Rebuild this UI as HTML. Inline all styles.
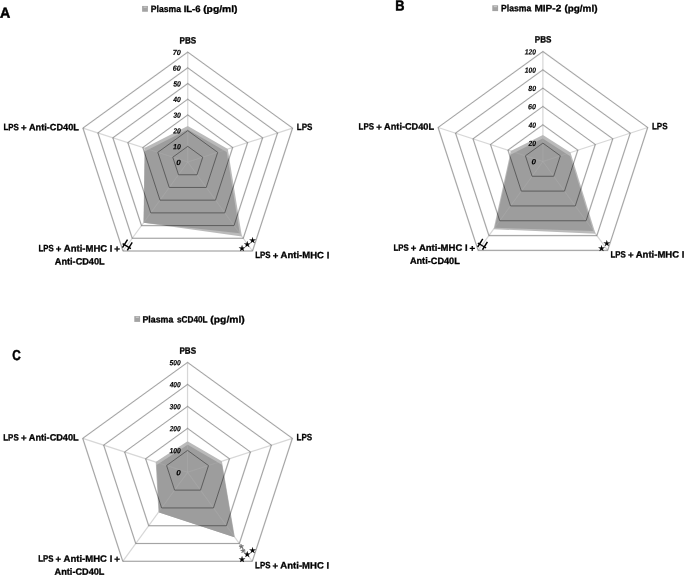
<!DOCTYPE html>
<html><head><meta charset="utf-8"><title>Radar charts</title>
<style>
html,body{margin:0;padding:0;background:#fff;}
svg{display:block;font-family:"Liberation Sans", Arial, sans-serif;font-weight:bold;text-rendering:geometricPrecision;}
</style></head><body>
<svg width="685" height="576" viewBox="0 0 685 576">
<rect width="685" height="576" fill="#fff"/>
<polygon points="187.75,125.88 227.79,149.07 241.89,236.39 143.61,222.67 144.38,147.99" fill="#bababa"/>
<polygon points="187.65,129.52 226.66,152.11 239.74,233.14 143.61,222.67 145.11,151.21" fill="#9d9d9d"/>
<clipPath id="in1"><polygon points="187.75,125.88 227.79,149.07 241.89,236.39 143.61,222.67 144.38,147.99"/></clipPath>
<clipPath id="out1"><path clip-rule="evenodd" d="M0 0 H685 V576 H0 Z M187.75 125.88 L227.79 149.07 L241.89 236.39 L143.61 222.67 L144.38 147.99 Z"/></clipPath>
<g clip-path="url(#out1)">
<line x1="187.75" y1="162.05" x2="187.75" y2="52.10" stroke="#b0b0b0" stroke-opacity="0.5" stroke-width="1.2"/>
<line x1="187.75" y1="162.05" x2="292.56" y2="128.07" stroke="#b0b0b0" stroke-opacity="0.5" stroke-width="1.2"/>
<line x1="187.75" y1="162.05" x2="252.52" y2="251.00" stroke="#b0b0b0" stroke-opacity="0.5" stroke-width="1.2"/>
<line x1="187.75" y1="162.05" x2="122.98" y2="251.00" stroke="#b0b0b0" stroke-opacity="0.5" stroke-width="1.2"/>
<line x1="187.75" y1="162.05" x2="82.94" y2="128.07" stroke="#b0b0b0" stroke-opacity="0.5" stroke-width="1.2"/>
<polygon points="187.75,146.34 202.72,157.20 197.00,174.76 178.50,174.76 172.78,157.20" fill="none" stroke="#474747" stroke-opacity="0.16" stroke-width="1.6"/>
<polygon points="187.75,146.34 202.72,157.20 197.00,174.76 178.50,174.76 172.78,157.20" fill="none" stroke="#666666" stroke-width="0.5"/>
<polygon points="187.75,130.64 217.69,152.34 206.26,187.46 169.24,187.46 157.81,152.34" fill="none" stroke="#474747" stroke-opacity="0.16" stroke-width="1.6"/>
<polygon points="187.75,130.64 217.69,152.34 206.26,187.46 169.24,187.46 157.81,152.34" fill="none" stroke="#666666" stroke-width="0.5"/>
<polygon points="187.75,114.93 232.67,147.49 215.51,200.17 159.99,200.17 142.83,147.49" fill="none" stroke="#474747" stroke-opacity="0.16" stroke-width="1.6"/>
<polygon points="187.75,114.93 232.67,147.49 215.51,200.17 159.99,200.17 142.83,147.49" fill="none" stroke="#666666" stroke-width="0.5"/>
<polygon points="187.75,99.22 247.64,142.63 224.76,212.88 150.74,212.88 127.86,142.63" fill="none" stroke="#474747" stroke-opacity="0.16" stroke-width="1.6"/>
<polygon points="187.75,99.22 247.64,142.63 224.76,212.88 150.74,212.88 127.86,142.63" fill="none" stroke="#666666" stroke-width="0.5"/>
<polygon points="187.75,83.51 262.61,137.78 234.02,225.59 141.48,225.59 112.89,137.78" fill="none" stroke="#474747" stroke-opacity="0.16" stroke-width="1.6"/>
<polygon points="187.75,83.51 262.61,137.78 234.02,225.59 141.48,225.59 112.89,137.78" fill="none" stroke="#666666" stroke-width="0.5"/>
<polygon points="187.75,67.81 277.58,132.93 243.27,238.29 132.23,238.29 97.92,132.93" fill="none" stroke="#474747" stroke-opacity="0.16" stroke-width="1.6"/>
<polygon points="187.75,67.81 277.58,132.93 243.27,238.29 132.23,238.29 97.92,132.93" fill="none" stroke="#666666" stroke-width="0.5"/>
<polygon points="187.75,52.10 292.56,128.07 252.52,251.00 122.98,251.00 82.94,128.07" fill="none" stroke="#474747" stroke-opacity="0.16" stroke-width="1.6"/>
<polygon points="187.75,52.10 292.56,128.07 252.52,251.00 122.98,251.00 82.94,128.07" fill="none" stroke="#666666" stroke-width="0.5"/>
</g>
<g clip-path="url(#in1)">
<line x1="187.75" y1="162.05" x2="187.75" y2="52.10" stroke="#b4b4b4" stroke-opacity="0.32" stroke-width="1.1"/>
<line x1="187.75" y1="162.05" x2="292.56" y2="128.07" stroke="#b4b4b4" stroke-opacity="0.32" stroke-width="1.1"/>
<line x1="187.75" y1="162.05" x2="252.52" y2="251.00" stroke="#b4b4b4" stroke-opacity="0.32" stroke-width="1.1"/>
<line x1="187.75" y1="162.05" x2="122.98" y2="251.00" stroke="#b4b4b4" stroke-opacity="0.32" stroke-width="1.1"/>
<line x1="187.75" y1="162.05" x2="82.94" y2="128.07" stroke="#b4b4b4" stroke-opacity="0.32" stroke-width="1.1"/>
<polygon points="187.75,146.34 202.72,157.20 197.00,174.76 178.50,174.76 172.78,157.20" fill="none" stroke="#4c4c4c" stroke-width="0.8"/>
<polygon points="187.75,130.64 217.69,152.34 206.26,187.46 169.24,187.46 157.81,152.34" fill="none" stroke="#4c4c4c" stroke-width="0.8"/>
<polygon points="187.75,114.93 232.67,147.49 215.51,200.17 159.99,200.17 142.83,147.49" fill="none" stroke="#4c4c4c" stroke-width="0.8"/>
<polygon points="187.75,99.22 247.64,142.63 224.76,212.88 150.74,212.88 127.86,142.63" fill="none" stroke="#4c4c4c" stroke-width="0.8"/>
<polygon points="187.75,83.51 262.61,137.78 234.02,225.59 141.48,225.59 112.89,137.78" fill="none" stroke="#4c4c4c" stroke-width="0.8"/>
<polygon points="187.75,67.81 277.58,132.93 243.27,238.29 132.23,238.29 97.92,132.93" fill="none" stroke="#4c4c4c" stroke-width="0.8"/>
<polygon points="187.75,52.10 292.56,128.07 252.52,251.00 122.98,251.00 82.94,128.07" fill="none" stroke="#4c4c4c" stroke-width="0.8"/>
</g>
<text y="164.95" font-size="7.6" fill="#000" stroke="#000" stroke-width="0.12" font-style="italic" transform="rotate(0.1 178.8 165.0)"><tspan x="176.36" textLength="4.52" lengthAdjust="spacingAndGlyphs">0</tspan></text>
<text y="149.24" font-size="7.6" fill="#000" stroke="#000" stroke-width="0.12" font-style="italic" transform="rotate(0.1 177.0 149.2)"><tspan x="173.09" textLength="7.78" lengthAdjust="spacingAndGlyphs">10</tspan></text>
<text y="133.54" font-size="7.6" fill="#000" stroke="#000" stroke-width="0.12" font-style="italic" transform="rotate(0.1 177.0 133.5)"><tspan x="173.31" textLength="7.56" lengthAdjust="spacingAndGlyphs">20</tspan></text>
<text y="117.83" font-size="7.6" fill="#000" stroke="#000" stroke-width="0.12" font-style="italic" transform="rotate(0.1 177.0 117.8)"><tspan x="173.15" textLength="7.72" lengthAdjust="spacingAndGlyphs">30</tspan></text>
<text y="102.12" font-size="7.6" fill="#000" stroke="#000" stroke-width="0.12" font-style="italic" transform="rotate(0.1 177.0 102.1)"><tspan x="173.31" textLength="7.55" lengthAdjust="spacingAndGlyphs">40</tspan></text>
<text y="86.41" font-size="7.6" fill="#000" stroke="#000" stroke-width="0.12" font-style="italic" transform="rotate(0.1 177.0 86.4)"><tspan x="173.13" textLength="7.74" lengthAdjust="spacingAndGlyphs">50</tspan></text>
<text y="70.71" font-size="7.6" fill="#000" stroke="#000" stroke-width="0.12" font-style="italic" transform="rotate(0.1 177.0 70.7)"><tspan x="172.87" textLength="8.00" lengthAdjust="spacingAndGlyphs">60</tspan></text>
<text y="55.00" font-size="7.6" fill="#000" stroke="#000" stroke-width="0.12" font-style="italic" transform="rotate(0.1 177.0 55.0)"><tspan x="172.69" textLength="8.19" lengthAdjust="spacingAndGlyphs">70</tspan></text>
<polygon points="542.90,134.91 570.48,152.51 595.51,233.69 493.58,229.17 510.75,151.03" fill="#bababa"/>
<polygon points="542.71,138.59 570.24,156.15 593.35,231.12 494.83,227.71 510.91,154.53" fill="#9d9d9d"/>
<clipPath id="in2"><polygon points="542.90,134.91 570.48,152.51 595.51,233.69 493.58,229.17 510.75,151.03"/></clipPath>
<clipPath id="out2"><path clip-rule="evenodd" d="M0 0 H685 V576 H0 Z M542.90 134.91 L570.48 152.51 L595.51 233.69 L493.58 229.17 L510.75 151.03 Z"/></clipPath>
<g clip-path="url(#out2)">
<line x1="542.90" y1="161.45" x2="542.90" y2="51.50" stroke="#b0b0b0" stroke-opacity="0.5" stroke-width="1.2"/>
<line x1="542.90" y1="161.45" x2="647.71" y2="127.47" stroke="#b0b0b0" stroke-opacity="0.5" stroke-width="1.2"/>
<line x1="542.90" y1="161.45" x2="607.67" y2="250.40" stroke="#b0b0b0" stroke-opacity="0.5" stroke-width="1.2"/>
<line x1="542.90" y1="161.45" x2="478.13" y2="250.40" stroke="#b0b0b0" stroke-opacity="0.5" stroke-width="1.2"/>
<line x1="542.90" y1="161.45" x2="438.09" y2="127.47" stroke="#b0b0b0" stroke-opacity="0.5" stroke-width="1.2"/>
<polygon points="542.90,143.12 560.37,155.79 553.70,176.28 532.10,176.28 525.43,155.79" fill="none" stroke="#474747" stroke-opacity="0.16" stroke-width="1.6"/>
<polygon points="542.90,143.12 560.37,155.79 553.70,176.28 532.10,176.28 525.43,155.79" fill="none" stroke="#666666" stroke-width="0.5"/>
<polygon points="542.90,124.80 577.84,150.12 564.49,191.10 521.31,191.10 507.96,150.12" fill="none" stroke="#474747" stroke-opacity="0.16" stroke-width="1.6"/>
<polygon points="542.90,124.80 577.84,150.12 564.49,191.10 521.31,191.10 507.96,150.12" fill="none" stroke="#666666" stroke-width="0.5"/>
<polygon points="542.90,106.47 595.30,144.46 575.29,205.93 510.51,205.93 490.50,144.46" fill="none" stroke="#474747" stroke-opacity="0.16" stroke-width="1.6"/>
<polygon points="542.90,106.47 595.30,144.46 575.29,205.93 510.51,205.93 490.50,144.46" fill="none" stroke="#666666" stroke-width="0.5"/>
<polygon points="542.90,88.15 612.77,138.80 586.08,220.75 499.72,220.75 473.03,138.80" fill="none" stroke="#474747" stroke-opacity="0.16" stroke-width="1.6"/>
<polygon points="542.90,88.15 612.77,138.80 586.08,220.75 499.72,220.75 473.03,138.80" fill="none" stroke="#666666" stroke-width="0.5"/>
<polygon points="542.90,69.82 630.24,133.14 596.88,235.58 488.92,235.58 455.56,133.14" fill="none" stroke="#474747" stroke-opacity="0.16" stroke-width="1.6"/>
<polygon points="542.90,69.82 630.24,133.14 596.88,235.58 488.92,235.58 455.56,133.14" fill="none" stroke="#666666" stroke-width="0.5"/>
<polygon points="542.90,51.50 647.71,127.47 607.67,250.40 478.13,250.40 438.09,127.47" fill="none" stroke="#474747" stroke-opacity="0.16" stroke-width="1.6"/>
<polygon points="542.90,51.50 647.71,127.47 607.67,250.40 478.13,250.40 438.09,127.47" fill="none" stroke="#666666" stroke-width="0.5"/>
</g>
<g clip-path="url(#in2)">
<line x1="542.90" y1="161.45" x2="542.90" y2="51.50" stroke="#b4b4b4" stroke-opacity="0.32" stroke-width="1.1"/>
<line x1="542.90" y1="161.45" x2="647.71" y2="127.47" stroke="#b4b4b4" stroke-opacity="0.32" stroke-width="1.1"/>
<line x1="542.90" y1="161.45" x2="607.67" y2="250.40" stroke="#b4b4b4" stroke-opacity="0.32" stroke-width="1.1"/>
<line x1="542.90" y1="161.45" x2="478.13" y2="250.40" stroke="#b4b4b4" stroke-opacity="0.32" stroke-width="1.1"/>
<line x1="542.90" y1="161.45" x2="438.09" y2="127.47" stroke="#b4b4b4" stroke-opacity="0.32" stroke-width="1.1"/>
<polygon points="542.90,143.12 560.37,155.79 553.70,176.28 532.10,176.28 525.43,155.79" fill="none" stroke="#4c4c4c" stroke-width="0.8"/>
<polygon points="542.90,124.80 577.84,150.12 564.49,191.10 521.31,191.10 507.96,150.12" fill="none" stroke="#4c4c4c" stroke-width="0.8"/>
<polygon points="542.90,106.47 595.30,144.46 575.29,205.93 510.51,205.93 490.50,144.46" fill="none" stroke="#4c4c4c" stroke-width="0.8"/>
<polygon points="542.90,88.15 612.77,138.80 586.08,220.75 499.72,220.75 473.03,138.80" fill="none" stroke="#4c4c4c" stroke-width="0.8"/>
<polygon points="542.90,69.82 630.24,133.14 596.88,235.58 488.92,235.58 455.56,133.14" fill="none" stroke="#4c4c4c" stroke-width="0.8"/>
<polygon points="542.90,51.50 647.71,127.47 607.67,250.40 478.13,250.40 438.09,127.47" fill="none" stroke="#4c4c4c" stroke-width="0.8"/>
</g>
<text y="164.35" font-size="7.6" fill="#000" stroke="#000" stroke-width="0.12" font-style="italic" transform="rotate(0.1 533.9 164.3)"><tspan x="531.51" textLength="4.52" lengthAdjust="spacingAndGlyphs">0</tspan></text>
<text y="146.03" font-size="7.6" fill="#000" stroke="#000" stroke-width="0.12" font-style="italic" transform="rotate(0.1 532.1 146.0)"><tspan x="528.46" textLength="7.56" lengthAdjust="spacingAndGlyphs">20</tspan></text>
<text y="127.70" font-size="7.6" fill="#000" stroke="#000" stroke-width="0.12" font-style="italic" transform="rotate(0.1 532.1 127.7)"><tspan x="528.46" textLength="7.55" lengthAdjust="spacingAndGlyphs">40</tspan></text>
<text y="109.38" font-size="7.6" fill="#000" stroke="#000" stroke-width="0.12" font-style="italic" transform="rotate(0.1 532.1 109.4)"><tspan x="528.02" textLength="8.00" lengthAdjust="spacingAndGlyphs">60</tspan></text>
<text y="91.05" font-size="7.6" fill="#000" stroke="#000" stroke-width="0.12" font-style="italic" transform="rotate(0.1 532.1 91.0)"><tspan x="528.26" textLength="7.76" lengthAdjust="spacingAndGlyphs">80</tspan></text>
<text y="72.72" font-size="7.6" fill="#000" stroke="#000" stroke-width="0.12" font-style="italic" transform="rotate(0.1 530.4 72.7)"><tspan x="524.84" textLength="11.17" lengthAdjust="spacingAndGlyphs">100</tspan></text>
<text y="54.40" font-size="7.6" fill="#000" stroke="#000" stroke-width="0.12" font-style="italic" transform="rotate(0.1 530.4 54.4)"><tspan x="524.84" textLength="11.17" lengthAdjust="spacingAndGlyphs">120</tspan></text>
<polygon points="187.55,441.22 221.88,461.22 234.87,537.33 158.45,512.31 155.69,462.02" fill="#bababa"/>
<polygon points="187.64,444.74 221.98,464.75 234.33,537.15 159.17,512.54 156.56,465.04" fill="#9d9d9d"/>
<clipPath id="in3"><polygon points="187.55,441.22 221.88,461.22 234.87,537.33 158.45,512.31 155.69,462.02"/></clipPath>
<clipPath id="out3"><path clip-rule="evenodd" d="M0 0 H685 V576 H0 Z M187.55 441.22 L221.88 461.22 L234.87 537.33 L158.45 512.31 L155.69 462.02 Z"/></clipPath>
<g clip-path="url(#out3)">
<line x1="187.55" y1="472.35" x2="187.55" y2="362.40" stroke="#b0b0b0" stroke-opacity="0.5" stroke-width="1.2"/>
<line x1="187.55" y1="472.35" x2="292.36" y2="438.37" stroke="#b0b0b0" stroke-opacity="0.5" stroke-width="1.2"/>
<line x1="187.55" y1="472.35" x2="252.32" y2="561.30" stroke="#b0b0b0" stroke-opacity="0.5" stroke-width="1.2"/>
<line x1="187.55" y1="472.35" x2="122.78" y2="561.30" stroke="#b0b0b0" stroke-opacity="0.5" stroke-width="1.2"/>
<line x1="187.55" y1="472.35" x2="82.74" y2="438.37" stroke="#b0b0b0" stroke-opacity="0.5" stroke-width="1.2"/>
<polygon points="187.55,450.36 208.51,465.55 200.50,490.14 174.60,490.14 166.59,465.55" fill="none" stroke="#474747" stroke-opacity="0.16" stroke-width="1.6"/>
<polygon points="187.55,450.36 208.51,465.55 200.50,490.14 174.60,490.14 166.59,465.55" fill="none" stroke="#666666" stroke-width="0.5"/>
<polygon points="187.55,428.37 229.47,458.76 213.46,507.93 161.64,507.93 145.63,458.76" fill="none" stroke="#474747" stroke-opacity="0.16" stroke-width="1.6"/>
<polygon points="187.55,428.37 229.47,458.76 213.46,507.93 161.64,507.93 145.63,458.76" fill="none" stroke="#666666" stroke-width="0.5"/>
<polygon points="187.55,406.38 250.43,451.96 226.41,525.72 148.69,525.72 124.67,451.96" fill="none" stroke="#474747" stroke-opacity="0.16" stroke-width="1.6"/>
<polygon points="187.55,406.38 250.43,451.96 226.41,525.72 148.69,525.72 124.67,451.96" fill="none" stroke="#666666" stroke-width="0.5"/>
<polygon points="187.55,384.39 271.40,445.17 239.37,543.51 135.73,543.51 103.70,445.17" fill="none" stroke="#474747" stroke-opacity="0.16" stroke-width="1.6"/>
<polygon points="187.55,384.39 271.40,445.17 239.37,543.51 135.73,543.51 103.70,445.17" fill="none" stroke="#666666" stroke-width="0.5"/>
<polygon points="187.55,362.40 292.36,438.37 252.32,561.30 122.78,561.30 82.74,438.37" fill="none" stroke="#474747" stroke-opacity="0.16" stroke-width="1.6"/>
<polygon points="187.55,362.40 292.36,438.37 252.32,561.30 122.78,561.30 82.74,438.37" fill="none" stroke="#666666" stroke-width="0.5"/>
</g>
<g clip-path="url(#in3)">
<line x1="187.55" y1="472.35" x2="187.55" y2="362.40" stroke="#b4b4b4" stroke-opacity="0.32" stroke-width="1.1"/>
<line x1="187.55" y1="472.35" x2="292.36" y2="438.37" stroke="#b4b4b4" stroke-opacity="0.32" stroke-width="1.1"/>
<line x1="187.55" y1="472.35" x2="252.32" y2="561.30" stroke="#b4b4b4" stroke-opacity="0.32" stroke-width="1.1"/>
<line x1="187.55" y1="472.35" x2="122.78" y2="561.30" stroke="#b4b4b4" stroke-opacity="0.32" stroke-width="1.1"/>
<line x1="187.55" y1="472.35" x2="82.74" y2="438.37" stroke="#b4b4b4" stroke-opacity="0.32" stroke-width="1.1"/>
<polygon points="187.55,450.36 208.51,465.55 200.50,490.14 174.60,490.14 166.59,465.55" fill="none" stroke="#4c4c4c" stroke-width="0.8"/>
<polygon points="187.55,428.37 229.47,458.76 213.46,507.93 161.64,507.93 145.63,458.76" fill="none" stroke="#4c4c4c" stroke-width="0.8"/>
<polygon points="187.55,406.38 250.43,451.96 226.41,525.72 148.69,525.72 124.67,451.96" fill="none" stroke="#4c4c4c" stroke-width="0.8"/>
<polygon points="187.55,384.39 271.40,445.17 239.37,543.51 135.73,543.51 103.70,445.17" fill="none" stroke="#4c4c4c" stroke-width="0.8"/>
<polygon points="187.55,362.40 292.36,438.37 252.32,561.30 122.78,561.30 82.74,438.37" fill="none" stroke="#4c4c4c" stroke-width="0.8"/>
</g>
<text y="475.25" font-size="7.6" fill="#000" stroke="#000" stroke-width="0.12" font-style="italic" transform="rotate(0.1 178.6 475.2)"><tspan x="176.16" textLength="4.52" lengthAdjust="spacingAndGlyphs">0</tspan></text>
<text y="453.26" font-size="7.6" fill="#000" stroke="#000" stroke-width="0.12" font-style="italic" transform="rotate(0.1 175.1 453.3)"><tspan x="169.49" textLength="11.17" lengthAdjust="spacingAndGlyphs">100</tspan></text>
<text y="431.27" font-size="7.6" fill="#000" stroke="#000" stroke-width="0.12" font-style="italic" transform="rotate(0.1 175.1 431.3)"><tspan x="169.70" textLength="10.96" lengthAdjust="spacingAndGlyphs">200</tspan></text>
<text y="409.28" font-size="7.6" fill="#000" stroke="#000" stroke-width="0.12" font-style="italic" transform="rotate(0.1 175.1 409.3)"><tspan x="169.55" textLength="11.12" lengthAdjust="spacingAndGlyphs">300</tspan></text>
<text y="387.29" font-size="7.6" fill="#000" stroke="#000" stroke-width="0.12" font-style="italic" transform="rotate(0.1 175.1 387.3)"><tspan x="169.71" textLength="10.96" lengthAdjust="spacingAndGlyphs">400</tspan></text>
<text y="365.30" font-size="7.6" fill="#000" stroke="#000" stroke-width="0.12" font-style="italic" transform="rotate(0.1 175.1 365.3)"><tspan x="169.53" textLength="11.13" lengthAdjust="spacingAndGlyphs">500</tspan></text>
<text y="43.60" font-size="9.2" fill="#000" stroke="#000" stroke-width="0.3" transform="rotate(0.1 188.1 43.6)"><tspan x="179.61" textLength="16.66" lengthAdjust="spacingAndGlyphs">PBS</tspan></text>
<text y="129.90" font-size="9.2" fill="#000" stroke="#000" stroke-width="0.3" transform="rotate(0.1 304.7 129.9)"><tspan x="296.76" textLength="15.65" lengthAdjust="spacingAndGlyphs">LPS</tspan></text>
<text y="258.10" font-size="9.2" fill="#000" stroke="#000" stroke-width="0.3" transform="rotate(0.1 292.2 258.1)"><tspan x="255.27" textLength="15.34" lengthAdjust="spacingAndGlyphs">LPS</tspan> <tspan x="272.80" dy="0.6" textLength="5.59" lengthAdjust="spacingAndGlyphs">+</tspan> <tspan x="280.56" dy="-0.6" textLength="43.40" lengthAdjust="spacingAndGlyphs">Anti-MHC</tspan> <tspan x="326.72" textLength="2.60" lengthAdjust="spacingAndGlyphs">I</tspan></text>
<text y="251.40" font-size="9.2" fill="#000" stroke="#000" stroke-width="0.3" transform="rotate(0.1 79.3 251.4)"><tspan x="38.38" textLength="15.23" lengthAdjust="spacingAndGlyphs">LPS</tspan> <tspan x="55.70" dy="0.6" textLength="5.59" lengthAdjust="spacingAndGlyphs">+</tspan> <tspan x="63.76" dy="-0.6" textLength="43.40" lengthAdjust="spacingAndGlyphs">Anti-MHC</tspan> <tspan x="109.87" textLength="2.60" lengthAdjust="spacingAndGlyphs">I</tspan> <tspan x="114.39" dy="0.6" textLength="5.71" lengthAdjust="spacingAndGlyphs">+</tspan></text>
<text y="264.50" font-size="9.2" fill="#000" stroke="#000" stroke-width="0.3" transform="rotate(0.1 79.7 264.5)"><tspan x="54.77" textLength="49.91" lengthAdjust="spacingAndGlyphs">Anti-CD40L</tspan></text>
<text y="130.20" font-size="9.2" fill="#000" stroke="#000" stroke-width="0.3" transform="rotate(0.1 41.3 130.2)"><tspan x="3.47" textLength="15.44" lengthAdjust="spacingAndGlyphs">LPS</tspan> <tspan x="21.10" dy="0.6" textLength="5.59" lengthAdjust="spacingAndGlyphs">+</tspan> <tspan x="28.97" dy="-0.6" textLength="49.91" lengthAdjust="spacingAndGlyphs">Anti-CD40L</tspan></text>
<text y="42.60" font-size="9.2" fill="#000" stroke="#000" stroke-width="0.3" transform="rotate(0.1 543.2 42.6)"><tspan x="534.76" textLength="16.66" lengthAdjust="spacingAndGlyphs">PBS</tspan></text>
<text y="129.30" font-size="9.2" fill="#000" stroke="#000" stroke-width="0.3" transform="rotate(0.1 659.9 129.3)"><tspan x="651.91" textLength="15.65" lengthAdjust="spacingAndGlyphs">LPS</tspan></text>
<text y="257.50" font-size="9.2" fill="#000" stroke="#000" stroke-width="0.3" transform="rotate(0.1 647.4 257.5)"><tspan x="610.42" textLength="15.34" lengthAdjust="spacingAndGlyphs">LPS</tspan> <tspan x="627.95" dy="0.6" textLength="5.59" lengthAdjust="spacingAndGlyphs">+</tspan> <tspan x="635.71" dy="-0.6" textLength="43.40" lengthAdjust="spacingAndGlyphs">Anti-MHC</tspan> <tspan x="681.87" textLength="2.60" lengthAdjust="spacingAndGlyphs">I</tspan></text>
<text y="250.80" font-size="9.2" fill="#000" stroke="#000" stroke-width="0.3" transform="rotate(0.1 434.4 250.8)"><tspan x="393.53" textLength="15.23" lengthAdjust="spacingAndGlyphs">LPS</tspan> <tspan x="410.85" dy="0.6" textLength="5.59" lengthAdjust="spacingAndGlyphs">+</tspan> <tspan x="418.91" dy="-0.6" textLength="43.40" lengthAdjust="spacingAndGlyphs">Anti-MHC</tspan> <tspan x="465.02" textLength="2.60" lengthAdjust="spacingAndGlyphs">I</tspan> <tspan x="469.54" dy="0.6" textLength="5.71" lengthAdjust="spacingAndGlyphs">+</tspan></text>
<text y="263.90" font-size="9.2" fill="#000" stroke="#000" stroke-width="0.3" transform="rotate(0.1 434.8 263.9)"><tspan x="409.92" textLength="49.91" lengthAdjust="spacingAndGlyphs">Anti-CD40L</tspan></text>
<text y="129.60" font-size="9.2" fill="#000" stroke="#000" stroke-width="0.3" transform="rotate(0.1 396.4 129.6)"><tspan x="358.62" textLength="15.44" lengthAdjust="spacingAndGlyphs">LPS</tspan> <tspan x="376.25" dy="0.6" textLength="5.59" lengthAdjust="spacingAndGlyphs">+</tspan> <tspan x="384.12" dy="-0.6" textLength="49.91" lengthAdjust="spacingAndGlyphs">Anti-CD40L</tspan></text>
<text y="353.70" font-size="9.2" fill="#000" stroke="#000" stroke-width="0.3" transform="rotate(0.1 187.9 353.7)"><tspan x="179.41" textLength="16.66" lengthAdjust="spacingAndGlyphs">PBS</tspan></text>
<text y="440.20" font-size="9.2" fill="#000" stroke="#000" stroke-width="0.3" transform="rotate(0.1 304.5 440.2)"><tspan x="296.56" textLength="15.65" lengthAdjust="spacingAndGlyphs">LPS</tspan></text>
<text y="568.40" font-size="9.2" fill="#000" stroke="#000" stroke-width="0.3" transform="rotate(0.1 292.1 568.4)"><tspan x="255.07" textLength="15.34" lengthAdjust="spacingAndGlyphs">LPS</tspan> <tspan x="272.60" dy="0.6" textLength="5.59" lengthAdjust="spacingAndGlyphs">+</tspan> <tspan x="280.36" dy="-0.6" textLength="43.40" lengthAdjust="spacingAndGlyphs">Anti-MHC</tspan> <tspan x="326.52" textLength="2.60" lengthAdjust="spacingAndGlyphs">I</tspan></text>
<text y="561.70" font-size="9.2" fill="#000" stroke="#000" stroke-width="0.3" transform="rotate(0.1 79.1 561.7)"><tspan x="38.18" textLength="15.23" lengthAdjust="spacingAndGlyphs">LPS</tspan> <tspan x="55.50" dy="0.6" textLength="5.59" lengthAdjust="spacingAndGlyphs">+</tspan> <tspan x="63.56" dy="-0.6" textLength="43.40" lengthAdjust="spacingAndGlyphs">Anti-MHC</tspan> <tspan x="109.67" textLength="2.60" lengthAdjust="spacingAndGlyphs">I</tspan> <tspan x="114.19" dy="0.6" textLength="5.71" lengthAdjust="spacingAndGlyphs">+</tspan></text>
<text y="574.80" font-size="9.2" fill="#000" stroke="#000" stroke-width="0.3" transform="rotate(0.1 79.5 574.8)"><tspan x="54.57" textLength="49.91" lengthAdjust="spacingAndGlyphs">Anti-CD40L</tspan></text>
<text y="440.50" font-size="9.2" fill="#000" stroke="#000" stroke-width="0.3" transform="rotate(0.1 41.1 440.5)"><tspan x="3.27" textLength="15.44" lengthAdjust="spacingAndGlyphs">LPS</tspan> <tspan x="20.90" dy="0.6" textLength="5.59" lengthAdjust="spacingAndGlyphs">+</tspan> <tspan x="28.77" dy="-0.6" textLength="49.91" lengthAdjust="spacingAndGlyphs">Anti-CD40L</tspan></text>
<text x="238.56" y="251.44" font-size="7.9" font-family="'DejaVu Sans', sans-serif" font-weight="normal" stroke="#000" stroke-width="0.25">★</text>
<text x="243.76" y="247.14" font-size="7.9" font-family="'DejaVu Sans', sans-serif" font-weight="normal" stroke="#000" stroke-width="0.25">★</text>
<text x="249.06" y="242.94" font-size="7.9" font-family="'DejaVu Sans', sans-serif" font-weight="normal" stroke="#000" stroke-width="0.25">★</text>
<text x="598.06" y="250.84" font-size="7.9" font-family="'DejaVu Sans', sans-serif" font-weight="normal" stroke="#000" stroke-width="0.25">★</text>
<text x="603.36" y="246.24" font-size="7.9" font-family="'DejaVu Sans', sans-serif" font-weight="normal" stroke="#000" stroke-width="0.25">★</text>
<text x="238.56" y="561.74" font-size="7.9" font-family="'DejaVu Sans', sans-serif" font-weight="normal" stroke="#000" stroke-width="0.25">★</text>
<text x="243.76" y="557.34" font-size="7.9" font-family="'DejaVu Sans', sans-serif" font-weight="normal" stroke="#000" stroke-width="0.25">★</text>
<text x="249.06" y="553.14" font-size="7.9" font-family="'DejaVu Sans', sans-serif" font-weight="normal" stroke="#000" stroke-width="0.25">★</text>
<line x1="122.45" y1="247.60" x2="127.55" y2="239.55" stroke="#000" stroke-width="1.45"/>
<line x1="127.30" y1="250.35" x2="132.20" y2="242.40" stroke="#000" stroke-width="1.45"/>
<line x1="122.60" y1="243.60" x2="130.90" y2="248.60" stroke="#000" stroke-width="1.45"/>
<line x1="477.65" y1="247.00" x2="482.75" y2="238.95" stroke="#000" stroke-width="1.45"/>
<line x1="482.50" y1="249.75" x2="487.40" y2="241.80" stroke="#000" stroke-width="1.45"/>
<line x1="477.80" y1="243.00" x2="486.10" y2="248.00" stroke="#000" stroke-width="1.45"/>
<text transform="translate(242.1,548.7) rotate(67)" font-size="12" text-anchor="middle" fill="#6c6c6c" stroke="#6c6c6c" stroke-width="0.35" font-weight="normal" y="6.0">**</text>
<rect x="142.10" y="5.95" width="5.80" height="5.80" fill="#a3a3a3"/>
<rect x="143.60" y="6.55" width="3.10" height="1.3" fill="#c6c6c6"/>
<text y="12.00" font-size="9.2" fill="#000" stroke="#000" stroke-width="0.3" transform="rotate(0.1 194.2 12.0)"><tspan x="150.82" textLength="30.12" lengthAdjust="spacingAndGlyphs">Plasma</tspan> <tspan x="183.66" textLength="16.88" lengthAdjust="spacingAndGlyphs">IL-6</tspan> <tspan x="203.19" textLength="34.33" lengthAdjust="spacingAndGlyphs">(pg/ml)</tspan></text>
<rect x="492.30" y="5.30" width="5.80" height="5.80" fill="#a3a3a3"/>
<rect x="493.80" y="5.90" width="3.10" height="1.3" fill="#c6c6c6"/>
<text y="11.35" font-size="9.2" fill="#000" stroke="#000" stroke-width="0.3" transform="rotate(0.1 549.3 11.3)"><tspan x="501.02" textLength="30.22" lengthAdjust="spacingAndGlyphs">Plasma</tspan> <tspan x="534.43" textLength="26.88" lengthAdjust="spacingAndGlyphs">MIP-2</tspan> <tspan x="564.41" textLength="33.09" lengthAdjust="spacingAndGlyphs">(pg/ml)</tspan></text>
<rect x="134.30" y="316.10" width="5.80" height="5.80" fill="#a3a3a3"/>
<rect x="135.80" y="316.70" width="3.10" height="1.3" fill="#c6c6c6"/>
<text y="322.50" font-size="9.2" fill="#000" stroke="#000" stroke-width="0.3" transform="rotate(0.1 193.6 322.5)"><tspan x="142.51" textLength="30.83" lengthAdjust="spacingAndGlyphs">Plasma</tspan> <tspan x="177.01" textLength="30.34" lengthAdjust="spacingAndGlyphs">sCD40L</tspan> <tspan x="210.39" textLength="34.33" lengthAdjust="spacingAndGlyphs">(pg/ml)</tspan></text>
<text y="17.70" font-size="14.6" fill="#000" stroke="#000" stroke-width="0.5" transform="rotate(0.1 5.1 17.7)"><tspan x="-0.05" textLength="10.23" lengthAdjust="spacingAndGlyphs">A</tspan></text>
<text y="10.40" font-size="14.6" fill="#000" stroke="#000" stroke-width="0.5" transform="rotate(0.1 399.9 10.4)"><tspan x="395.14" textLength="9.24" lengthAdjust="spacingAndGlyphs">B</tspan></text>
<text y="360.00" font-size="14.4" fill="#000" stroke="#000" stroke-width="0.5" transform="rotate(0.1 16.5 360.0)"><tspan x="12.22" textLength="8.51" lengthAdjust="spacingAndGlyphs">C</tspan></text>
</svg>
</body></html>
